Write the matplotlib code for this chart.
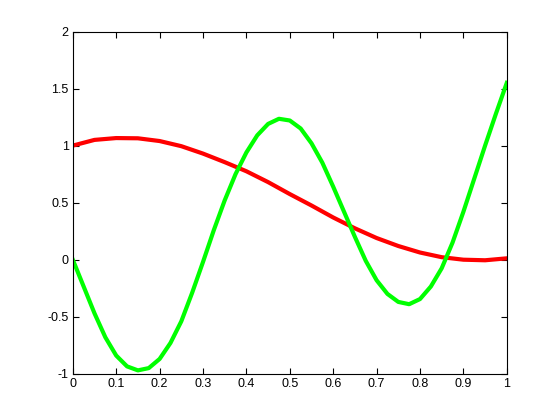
import matplotlib
matplotlib.use("Agg")
import matplotlib.pyplot as plt

# values
green_x = [0, 0.025, 0.05, 0.075, 0.1, 0.125, 0.15, 0.175, 0.2, 0.225,
           0.25, 0.275, 0.3, 0.325, 0.35, 0.375, 0.4, 0.425, 0.45, 0.475,
           0.5, 0.525, 0.55, 0.575, 0.6, 0.625, 0.65, 0.675, 0.7, 0.725,
           0.75, 0.775, 0.8, 0.825, 0.85, 0.875, 0.9, 0.925, 0.95, 0.975, 1.0]
green_y = [0, -0.235, -0.47, -0.68, -0.84, -0.935, -0.97, -0.95, -0.87, -0.73,
           -0.54, -0.29, -0.02, 0.26, 0.52, 0.75, 0.94, 1.09, 1.19, 1.235,
           1.22, 1.15, 1.02, 0.85, 0.64, 0.42, 0.20, -0.01, -0.18, -0.30,
           -0.37, -0.39, -0.345, -0.235, -0.075, 0.15, 0.42, 0.71, 1.00, 1.28, 1.55]

red_x = [0, 0.05, 0.1, 0.15, 0.2, 0.25, 0.3, 0.35, 0.4, 0.45, 0.5,
         0.55, 0.6, 0.65, 0.7, 0.75, 0.8, 0.85, 0.9, 0.95, 1.0]
red_y = [1.0, 1.05, 1.066, 1.064, 1.04, 0.995, 0.93, 0.855, 0.775, 0.68, 0.575,
         0.475, 0.37, 0.275, 0.19, 0.12, 0.063, 0.022, 0.0, -0.005, 0.012]

xticks = [0, 0.1, 0.2, 0.3, 0.4, 0.5, 0.6, 0.7, 0.8, 0.9, 1]
xlabels = ["0", "0.1", "0.2", "0.3", "0.4", "0.5", "0.6", "0.7", "0.8", "0.9", "1"]
yticks = [-1, -0.5, 0, 0.5, 1, 1.5, 2]
ylabels = ["-1", "-0.5", "0", "0.5", "1", "1.5", "2"]

plt.rcParams['font.family'] = ['Liberation Sans', 'DejaVu Sans']

fig = plt.figure(figsize=(5.6, 4.2), dpi=100)
ax = fig.add_axes([0.13, 0.11, 0.775, 0.815])

ax.plot(red_x, red_y, color=(1, 0, 0), linewidth=3, solid_joinstyle='round')
ax.plot(green_x, green_y, color=(0, 1, 0), linewidth=3, solid_joinstyle='round')

ax.set_xlim(0, 1)
ax.set_ylim(-1, 2)
ax.set_xticks(xticks)
ax.set_xticklabels(xlabels)
ax.set_yticks(yticks)
ax.set_yticklabels(ylabels)
ax.tick_params(direction='in', top=True, right=True, length=4, width=0.8,
               labelsize=9, pad=3)
for s in ax.spines.values():
    s.set_linewidth(0.8)

fig.savefig("out.png", dpi=100)
